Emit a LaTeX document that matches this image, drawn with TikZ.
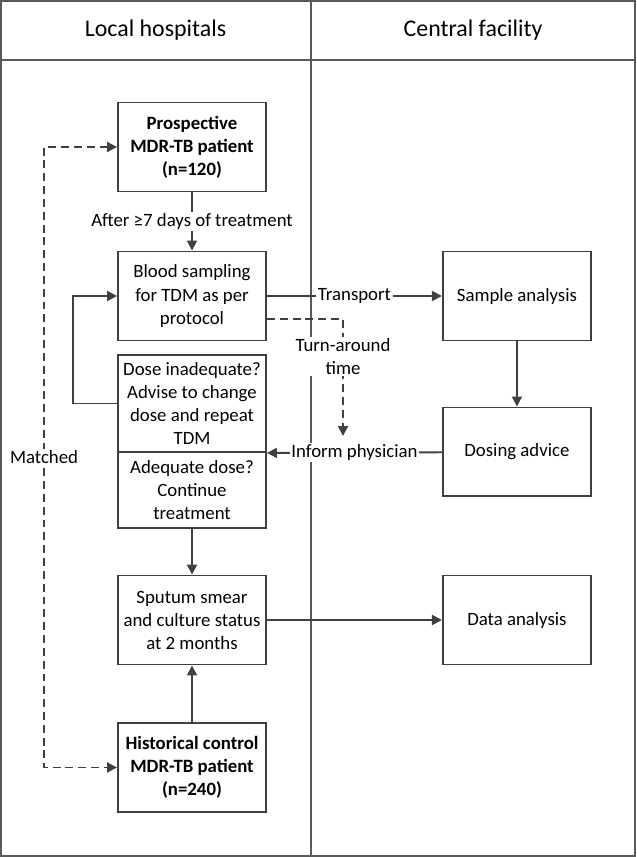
\documentclass[tikz,border=0pt]{standalone}
\usepackage{fontspec}
\setmainfont{Carlito}
\usetikzlibrary{arrows.meta}
\definecolor{linegray}{HTML}{404040}
\definecolor{framegray}{HTML}{5A5A5A}

\begin{document}
\begin{tikzpicture}[x=0.02cm, y=-0.02cm,
                    font=\fontsize{10.7}{13.1}\selectfont,
                    >={Triangle[length=0.2cm, width=0.2cm]},
                    main/.style = {draw=linegray, line width=1.1pt, minimum width=2.96cm, minimum height=1.78cm, align=center, inner sep=0pt},
                    bmain/.style = {main, font=\fontsize{10.7}{13.1}\selectfont\bfseries},
                    arr/.style = {->, draw=linegray, line width=1.1pt},
                    lbl/.style = {fill=white, inner sep=1pt, align=center, text=black},
                    frame/.style = {draw=framegray, line width=1pt}]
                    \useasboundingbox (0,0) rectangle (636,857);
                    \draw[frame] (0.75,0.75) rectangle (635.25,856.25);
                    \draw[frame] (0,60) -- (636,60);
                    \draw[frame] (311,0) -- (311,857);
                    \node[font=\fontsize{13.6}{16}\selectfont] (lh) at (155.5,30) {Local hospitals};
                    \node[font=\fontsize{13.6}{16}\selectfont] (cf) at (473,30) {Central facility};

                    \node[bmain] (1) at (192,147) {Prospective\\MDR-TB patient\\(n=120)};
                    \node[main] (2) at (192,296) {Blood sampling\\for TDM as per\\protocol};
                    \node[main, minimum height=1.94cm] (3) at (192,403.5) {Dose inadequate?\\Advise to change\\dose and repeat\\TDM};
                    \node[main, minimum height=1.52cm] (4) at (192,490) {Adequate dose?\\Continue\\treatment};
                    \node[main] (5) at (192,620) {Sputum smear\\and culture status\\at 2 months};
                    \node[bmain] (6) at (192,767.5) {Historical control\\MDR-TB patient\\(n=240)};

                    \node[main] (7) [right of=2, xshift=5.5cm] {Sample analysis};
                    \node[main] (8) [below of=7, yshift=-2.12cm] {Dosing advice};
                    \node[main] (9) [right of=5, xshift=5.5cm] {Data analysis};
                    \coordinate (t) at (343,436);

                    \draw[arr] (1) -- node[lbl] {After ≥7 days of treatment} (2);
                    \draw[arr] (2) -- node[lbl] {Transport} (7);
                    \draw[arr, dash pattern=on 4.5pt off 2.8pt] ([yshift=-0.46cm]2.east) -| node[lbl, pos=0.66] {Turn-around\\time} (t);
                    \draw[arr] (7) -- (8);
                    \draw[arr] (8) -- node[lbl] {Inform physician} (3.south east);
                    \draw[arr] (3.west) -- ++(-44,0) |- (2.west);
                    \draw[arr] (4) -- (5);
                    \draw[arr] (6) -- (5);
                    \draw[arr] (5) -- (9);
                    \draw[arr, <->, dash pattern=on 4.5pt off 2.8pt] (1.west) -- ++(-73,0) |- node[lbl, pos=0.25] {Matched} (6.west);
                \end{tikzpicture}
\end{document}
